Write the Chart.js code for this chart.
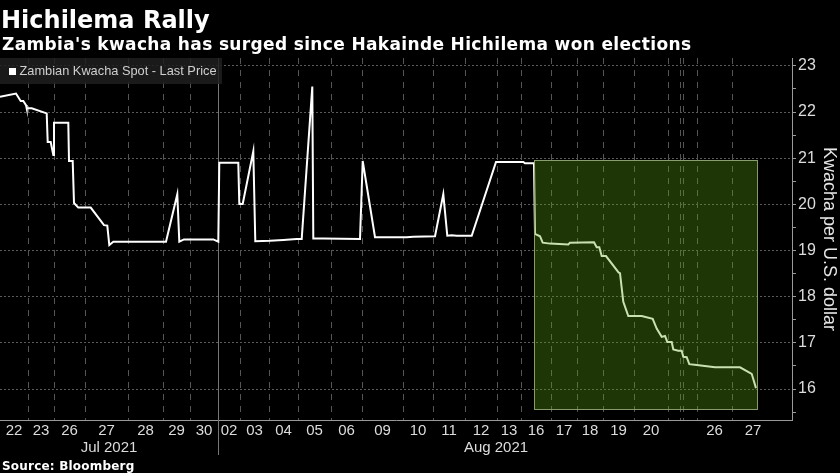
<!DOCTYPE html>
<html>
<head>
<meta charset="utf-8">
<script src="https://cdn.jsdelivr.net/npm/chart.js@4.4.0/dist/chart.umd.min.js"></script>
<style>
  html, body { margin: 0; padding: 0; background: #000; }
  #wrap { position: relative; width: 840px; height: 473px; overflow: hidden; background: #000; }
  #chart { position: absolute; left: 0; top: 0; }
  .t { position: absolute; white-space: nowrap; line-height: 1; }
  #title { left: 1px; top: 5.7px; font: bold 24px "DejaVu Sans"; color: #fff; }
  #subtitle { left: 2px; top: 33.9px; font: bold 17px "DejaVu Sans"; letter-spacing: 0.35px; color: #fff; }
  #source { left: 2px; top: 458.9px; font: bold 12px "DejaVu Sans"; letter-spacing: 0.2px; color: #fff; }
  #legend { position: absolute; left: 0; top: 58px; width: 222px; height: 26px; background: rgba(30,30,30,0.85); }
  #legend .sw { position: absolute; left: 9px; top: 10px; width: 7px; height: 7px; background: #fff; }
  #legend .lt { position: absolute; left: 19.5px; top: 7.2px; font: 12.8px "Liberation Sans"; color: #cfcfcf; line-height: 1; white-space: nowrap; }
</style>
</head>
<body>
<div id="wrap">
  <canvas id="chart" width="840" height="473"></canvas>
  <div class="t" id="title">Hichilema Rally</div>
  <div class="t" id="subtitle">Zambia's kwacha has surged since Hakainde Hichilema won elections</div>
  <div id="legend"><div class="sw"></div><div class="lt">Zambian Kwacha Spot - Last Price</div></div>
  <div class="t" id="source">Source: Bloomberg</div>
</div>
<script>
// ---- Data (x = cumulative trading-session index, Bloomberg compresses time by activity) ----
const dayLabels = ['22','23','26','27','28','29','30','02','03','04','05','06','09','10','11','12','13','16','17','18','19','20','23','24','25','26','27'];
const dayStarts = [0, 28, 54, 85, 128, 163, 190, 218, 240, 269, 298, 331, 362, 403, 433, 465, 497, 521, 551, 577, 603, 634, 668, 680, 683, 697, 732];
const sessionEnd = 774;   // end of the Aug 27 session
const axisEnd = 792;      // right end of the time axis
const monthLabels = ['Jul 2021', 'Aug 2021'];
const monthFirstDay = [0, 7]; // index into dayLabels where each month starts

const sessionIndex = [0, 16, 20.7, 23.3, 26, 26.7, 31.7, 46.7, 47.7, 50.7, 53.3, 54, 68.3, 69, 72.7, 74, 78.3, 90.7, 104, 107.3, 109.3, 113.3,
  166, 177.3, 179.3, 184, 213.3, 218.3, 219.3, 238.3, 239.3, 242.7, 253.3, 255.3, 270, 283.3, 296.7, 301.7, 312.3, 313.3, 323.3, 360, 362.7, 375,
  406.7, 413.3, 435, 443.3, 447.3, 451.7, 456.7, 471.7, 496, 523.3, 525, 534, 535, 540, 542.7, 550, 568.3, 570, 594, 596.7, 599.3, 601.7, 606,
  618.7, 620, 623.3, 628.3, 641.7, 652.7, 656.7, 661.7, 665, 667.3, 671.7, 673.3, 678.3, 681.7, 683.3, 686.7, 689.3, 696.7, 715, 740, 751.7, 756];
const kwacha = [22.33, 22.40, 22.24, 22.24, 22.15, 22.08, 22.08, 21.97, 21.35, 21.35, 21.07, 21.77, 21.77, 20.94, 20.94, 20.03, 19.93, 19.93, 19.55, 19.54, 19.12, 19.19,
  19.19, 20.22, 19.19, 19.24, 19.24, 19.19, 20.90, 20.90, 20.01, 20.01, 21.15, 19.20, 19.21, 19.23, 19.25, 19.25, 22.55, 19.26, 19.26, 19.25, 20.94, 19.29,
  19.29, 19.30, 19.31, 20.22, 19.32, 19.33, 19.32, 19.32, 20.92, 20.92, 20.89, 20.89, 19.36, 19.31, 19.17, 19.15, 19.13, 19.17, 19.18, 19.07, 19.07, 18.88, 18.88,
  18.52, 18.51, 17.89, 17.58, 17.58, 17.52, 17.31, 17.13, 17.15, 17.02, 17.02, 16.86, 16.83, 16.83, 16.70, 16.69, 16.54, 16.52, 16.47, 16.47, 16.33, 16.02];

const yTickLabels = [16, 17, 18, 19, 20, 21, 22, 23];
const yMin = 15.33, yMax = 23.17;

// Highlighted post-election period
const highlightFrom = 534, highlightTo = 757, highlightLow = 15.56, highlightHigh = 20.96;

// ---- Derived helpers ----
const dayEnds = dayStarts.slice(1).concat([sessionEnd]);
const dayTicks = [];
dayLabels.forEach((lab, i) => {
  if (dayEnds[i] - dayStarts[i] >= 20) dayTicks.push({ value: (dayStarts[i] + dayEnds[i]) / 2, label: lab });
});
const monthTicks = monthLabels.map((lab, i) => {
  const from = dayStarts[monthFirstDay[i]];
  const to = i + 1 < monthFirstDay.length ? dayStarts[monthFirstDay[i + 1]] : sessionEnd;
  return { value: (from + to) / 2, label: lab };
});
const yAllTicks = [];
for (let v = Math.ceil(yMin * 2) / 2; v <= yMax; v += 0.5) yAllTicks.push(v);

const decor = {
  id: 'decor',
  beforeDatasetsDraw(chart) {
    const { ctx, chartArea: a, scales: { x } } = chart;
    ctx.save();
    ctx.lineWidth = 1;
    dayStarts.forEach((d, i) => {
      if (i === 0) return;
      const px = Math.round(x.getPixelForValue(d)) + 0.5;
      ctx.beginPath();
      if (monthFirstDay.includes(i)) {
        ctx.setLineDash([]);
        ctx.strokeStyle = '#777';
        ctx.moveTo(px, a.top);
        ctx.lineTo(px, a.bottom + 35);
      } else {
        ctx.setLineDash([6, 6]);
        ctx.strokeStyle = '#555';
        ctx.moveTo(px, a.top);
        ctx.lineTo(px, a.bottom);
      }
      ctx.stroke();
    });
    ctx.restore();
  },
  afterDatasetsDraw(chart) {
    const { ctx, scales: { x, y } } = chart;
    const x1 = x.getPixelForValue(highlightFrom), x2 = x.getPixelForValue(highlightTo);
    const y1 = y.getPixelForValue(highlightHigh), y2 = y.getPixelForValue(highlightLow);
    ctx.save();
    ctx.fillStyle = 'rgba(90,160,15,0.33)';
    ctx.fillRect(x1, y1, x2 - x1, y2 - y1);
    ctx.strokeStyle = 'rgba(150,170,120,0.9)';
    ctx.lineWidth = 1;
    ctx.strokeRect(Math.round(x1) + 0.5, Math.round(y1) + 0.5, Math.round(x2 - x1), Math.round(y2 - y1));
    ctx.restore();
  }
};

const tickFont = { family: 'Liberation Sans', size: 15 };

new Chart(document.getElementById('chart'), {
  type: 'line',
  data: {
    datasets: [{
      label: 'Zambian Kwacha Spot - Last Price',
      data: sessionIndex.map((s, i) => ({ x: s, y: kwacha[i] })),
      borderColor: '#ffffff',
      backgroundColor: '#ffffff',
      borderWidth: 2,
      pointRadius: 0,
      tension: 0
    }]
  },
  options: {
    responsive: false,
    animation: false,
    devicePixelRatio: 1,
    layout: { padding: { left: 0, top: 58, right: 0, bottom: 0 } },
    plugins: { legend: { display: false }, tooltip: { enabled: false } },
    scales: {
      x: {
        type: 'linear', position: 'bottom', min: 0, max: axisEnd,
        afterBuildTicks: s => { s.ticks = dayTicks.map(t => ({ value: t.value })); },
        afterFit: s => { s.height = 18; },
        ticks: {
          autoSkip: false, maxRotation: 0, minRotation: 0, padding: 2,
          color: '#dcdcdc', font: tickFont,
          callback: (v, i) => dayTicks[i] ? dayTicks[i].label : ''
        },
        grid: { display: false, drawTicks: false },
        border: { display: true, color: '#9a9a9a', width: 1 }
      },
      month: {
        type: 'linear', position: 'bottom', min: 0, max: axisEnd,
        afterBuildTicks: s => { s.ticks = monthTicks.map(t => ({ value: t.value })); },
        afterFit: s => { s.height = 35; },
        ticks: {
          autoSkip: false, maxRotation: 0, minRotation: 0, padding: 1,
          color: '#dcdcdc', font: tickFont,
          callback: (v, i) => monthTicks[i] ? monthTicks[i].label : ''
        },
        grid: { display: false, drawTicks: false },
        border: { display: false }
      },
      y: {
        type: 'linear', position: 'right', min: yMin, max: yMax,
        afterBuildTicks: s => { s.ticks = yAllTicks.map(v => ({ value: v })); },
        afterFit: s => { s.width = 48; },
        ticks: {
          autoSkip: false, padding: 2, color: '#dcdcdc',
          font: { family: 'Liberation Sans', size: 16 },
          callback: v => yTickLabels.includes(v) ? String(v) : ''
        },
        grid: {
          color: c => (c.tick && yTickLabels.includes(c.tick.value)) ? '#5a5a5a' : 'rgba(0,0,0,0)',
          tickColor: '#9a9a9a', tickLength: 4, lineWidth: 1
        },
        border: { display: true, color: '#9a9a9a', width: 1, dash: [2, 2] },
        title: {
          display: true, text: 'Kwacha per U.S. dollar', color: '#e6e6e6',
          font: { family: 'Liberation Sans', size: 18 }, padding: 0
        }
      }
    }
  },
  plugins: [decor]
});
</script>
</body>
</html>
